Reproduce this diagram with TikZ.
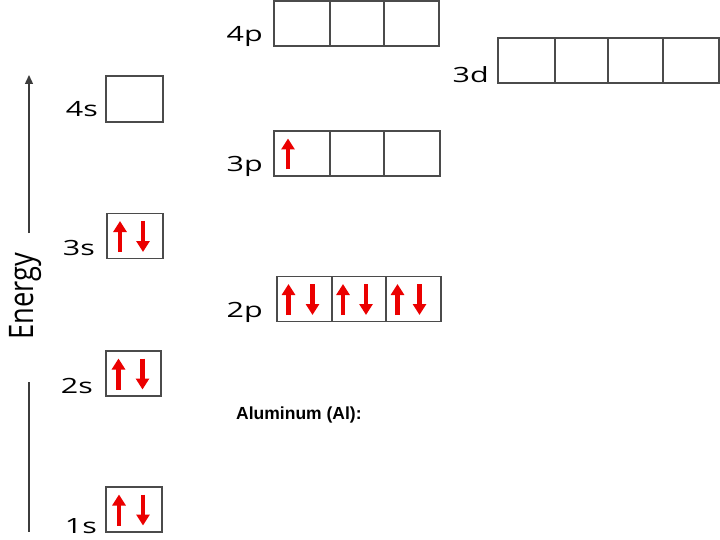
\documentclass[tikz,border=0pt]{standalone}
\usepackage{fontspec}
\setmainfont{Open Sans}
\newfontfamily\capfont{Liberation Sans}
\usetikzlibrary{arrows.meta,calc}
\definecolor{boxgray}{RGB}{75,75,75}
\definecolor{axisgray}{RGB}{60,60,60}
\definecolor{spinred}{RGB}{235,0,0}
\tikzset{
  cell/.style={draw=boxgray, line width=1.6pt, inner sep=0pt, minimum height=45pt, fill=white},
  lab/.style={anchor=base east, inner sep=0pt, font=\fontsize{21}{24}\selectfont},
  spin/.style={draw=spinred, line width=4.2pt, -{Triangle[width=13pt,length=11pt]}},
  axis/.style={draw=axisgray, line width=1.4pt}
}
\newcommand\upspin[2]{\draw[spin] ($(#1.center)+(#2,16)$) -- ($(#1.center)+(#2,-15)$);}
\newcommand\downspin[2]{\draw[spin] ($(#1.center)+(#2,-15)$) -- ($(#1.center)+(#2,16)$);}
\newcommand\lbl[1]{\scalebox{1.45}[1]{#1}}
\begin{document}
\begin{tikzpicture}[x=1pt,y=-1pt]
\useasboundingbox (0,0) rectangle (720,540);
% energy axis
\coordinate (ea1) at (29,233);
\coordinate (ea2) at (29,75);
\coordinate (eb1) at (29,382);
\coordinate (eb2) at (29,532);
\draw[axis, -{Triangle[width=8pt,length=9pt]}] (ea1) -- (ea2);
\draw[axis] (eb1) -- (eb2);
\node[rotate=90, anchor=base, inner sep=0pt, font=\fontsize{26}{30}\selectfont] (energy) at (33,296.5) {\scalebox{1.05}[1.3]{Energy}};
% s orbitals
\node[cell, minimum width=56pt] (s1) at (134,509.5) {};
\node[cell, minimum width=55pt] (s2) at (133.5,373.5) {};
\node[cell, minimum width=56pt] (s3) at (135,236) {};
\node[cell, minimum width=57pt, minimum height=46pt] (s4) at (134.5,99) {};
% p orbitals
\node[cell, minimum width=55pt] (p2a) at (304.5,299) {};
\node[cell, minimum width=54pt] (p2b) at (359,299) {};
\node[cell, minimum width=55pt] (p2c) at (413.5,299) {};
\node[cell, minimum width=56pt] (p3a) at (302,153.5) {};
\node[cell, minimum width=54pt] (p3b) at (357,153.5) {};
\node[cell, minimum width=56pt] (p3c) at (412,153.5) {};
\node[cell, minimum width=56pt] (p4a) at (302,23.5) {};
\node[cell, minimum width=54pt] (p4b) at (357,23.5) {};
\node[cell, minimum width=55pt] (p4c) at (411.5,23.5) {};
% d orbitals
\node[cell, minimum width=57pt] (d3a) at (526.5,60.5) {};
\node[cell, minimum width=53pt] (d3b) at (581.5,60.5) {};
\node[cell, minimum width=55pt] (d3c) at (635.5,60.5) {};
\node[cell, minimum width=56pt] (d3d) at (691,60.5) {};
% labels
\node[lab] (l4s) at (98,117) {\lbl{4s}};
\node[lab] (l3s) at (95,255) {\lbl{3s}};
\node[lab] (l2s) at (93,393) {\lbl{2s}};
\node[lab] (l1s) at (97,533) {\lbl{1s}};
\node[lab] (l4p) at (263,42) {\lbl{4p}};
\node[lab] (l3p) at (263,172) {\lbl{3p}};
\node[lab] (l2p) at (263,317) {\lbl{2p}};
\node[lab] (l3d) at (489,83) {\lbl{3d}};
% electrons
\upspin{s1}{-15}\downspin{s1}{9}
\upspin{s2}{-15}\downspin{s2}{9}
\upspin{s3}{-15}\downspin{s3}{8}
\upspin{p2a}{-16}\downspin{p2a}{8}
\upspin{p2b}{-16}\downspin{p2b}{7}
\upspin{p2c}{-16}\downspin{p2c}{6}
\upspin{p3a}{-14}
% caption
\node[anchor=west, inner sep=0pt, font=\capfont\bfseries\fontsize{17.5}{20}\selectfont] (cap) at (236,415) {Aluminum (Al):};
\end{tikzpicture}
\end{document}
